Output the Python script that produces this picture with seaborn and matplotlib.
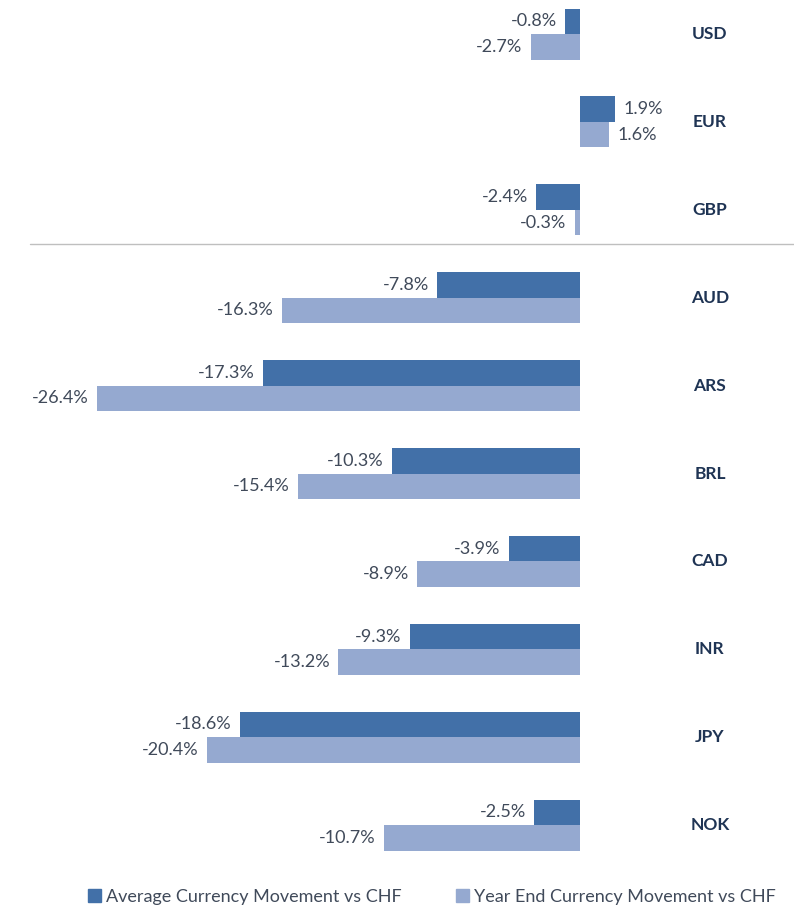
import matplotlib
matplotlib.use("Agg")
import matplotlib.pyplot as plt
import seaborn as sns
import pandas as pd

categories = ["USD", "EUR", "GBP", "AUD", "ARS", "BRL", "CAD", "INR", "JPY", "NOK"]
avg_movement = [-0.8, 1.9, -2.4, -7.8, -17.3, -10.3, -3.9, -9.3, -18.6, -2.5]
year_end_movement = [-2.7, 1.6, -0.3, -16.3, -26.4, -15.4, -8.9, -13.2, -20.4, -10.7]
series_names = ["Average Currency Movement vs CHF", "Year End Currency Movement vs CHF"]

df = pd.DataFrame({
    "Currency": categories * 2,
    "Value": avg_movement + year_end_movement,
    "Series": [series_names[0]] * len(categories) + [series_names[1]] * len(categories),
})

sns.set_style("white")
plt.rcParams["font.family"] = ["Lato", "DejaVu Sans"]

DARK = "#4270A8"
LIGHT = "#95A9D0"
TEXT = "#404A5A"
CAT = "#1F3454"

fig = plt.figure(figsize=(7.94, 9.14), dpi=100)
ax = fig.add_axes([0, 54 / 914, 1, 860 / 914])

sns.barplot(data=df, y="Currency", x="Value", hue="Series", order=categories,
            hue_order=series_names, palette=[DARK, LIGHT], orient="h",
            width=0.58, saturation=1, linewidth=0, ax=ax, legend=False)

for cont in ax.containers:
    ax.bar_label(cont, labels=[f"{v:.1f}%" for v in cont.datavalues],
                 padding=6, fontsize=13, color=TEXT)

for i, c in enumerate(categories):
    ax.text(7.1, i, c, ha="center", va="center", fontsize=12.5,
            fontweight="bold", color=CAT)

ax.axhline(2.39, xmin=30 / 794, xmax=1, color="#BFBFBF", lw=1)

ax.set_xlim(-580 / 18.3, 214 / 18.3)
ax.set_ylim(9.397, -0.387)
for s in ax.spines.values():
    s.set_visible(False)
ax.set_xticks([])
ax.set_yticks([])
ax.set_xlabel("")
ax.set_ylabel("")

handles = [plt.Rectangle((0, 0), 1, 1, color=DARK), plt.Rectangle((0, 0), 1, 1, color=LIGHT)]
fig.legend(handles, series_names, loc="center", bbox_to_anchor=(432 / 794, 17 / 914),
           ncol=2, frameon=False, fontsize=13, handlelength=0.7, handleheight=0.7,
           handletextpad=0.3, columnspacing=3.0, labelcolor=TEXT)

fig.savefig("out.png", dpi=100)
